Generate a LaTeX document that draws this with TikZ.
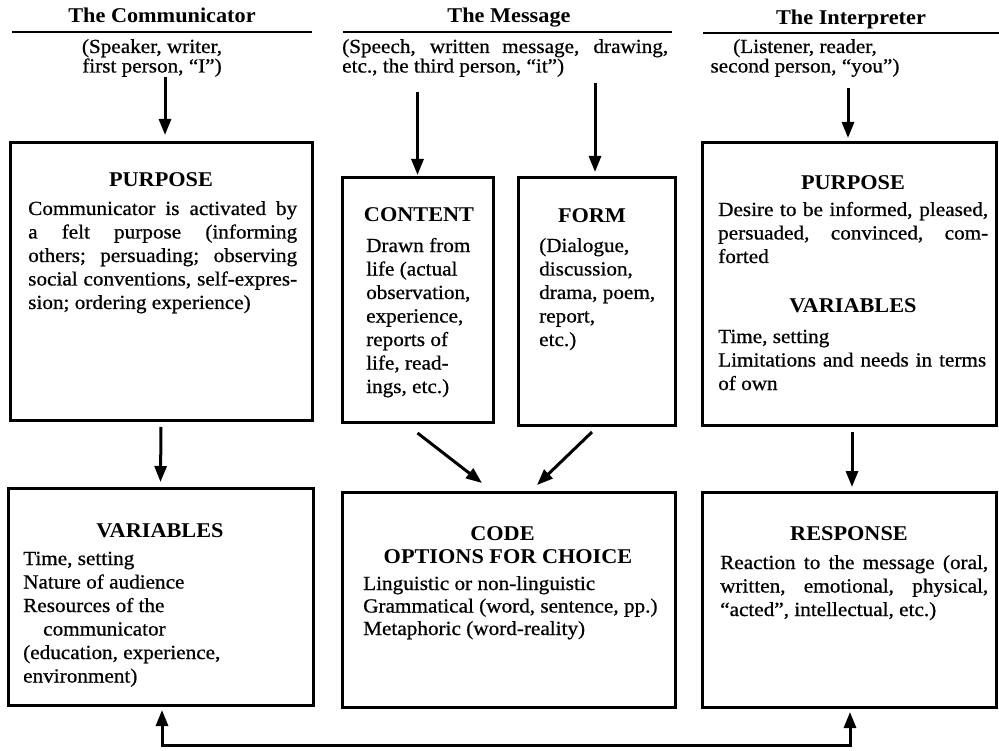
\documentclass[tikz,border=0pt]{standalone}
\usepackage{fontspec}
\setmainfont{Liberation Serif}[FakeStretch=1.06]
\newfontfamily\bodyf{Liberation Serif}[Ligatures=TeX, FakeStretch=1.06, FakeBold=0.7]
\usetikzlibrary{arrows.meta,calc}
\newcommand{\jl}[2]{\makebox[#1pt][s]{#2}}
\tikzset{
  box/.style={draw, line width=3pt, inner sep=0pt, outer sep=0pt},
  body/.style={anchor=base west, inner sep=0pt, align=left, font=\bodyf\fontsize{20}{23.5}\selectfont},
  hd/.style={anchor=base, inner sep=0pt, align=center, font=\fontsize{21}{23}\selectfont\bfseries},
  sub/.style={anchor=base, inner sep=0pt, align=center, font=\bodyf\fontsize{20}{19.5}\selectfont},
  arr/.style={line width=3pt, -{Triangle[length=16pt,width=12pt]}},
  rule/.style={line width=1.5pt}
}
\begin{document}
\begin{tikzpicture}[x=1pt,y=-1pt]
\useasboundingbox[fill=white] (0,0) rectangle (999,751);

% column titles
\node[hd] (t1) at (162,23) {The Communicator};
\node[hd] (t2) at (509,23) {The Message};
\node[hd] (t3) at (851,25) {The Interpreter};
\draw[rule] (12,32) -- (312,32);
\draw[rule] (343,32) -- (672,32);
\draw[rule] (703,33) -- (999,33);

% subtitles (base anchor = last line)
\node[sub] (s1) at (152,72.5) {(Speaker, writer,\\ first person, ``I'')};
\node[body, font=\bodyf\fontsize{20}{19.5}\selectfont] (s2) at (342,72.5) {\jl{326}{(Speech, written message, drawing,}\\ etc., the third person, ``it'')};
\node[sub] (s3) at (805,72.5) {(Listener, reader,\\ second person, ``you'')};

% boxes
\node[box, minimum width=302pt, minimum height=277pt] (lp) at (161,281.5) {};
\node[box, minimum width=151pt, minimum height=244pt] (ct) at (417.5,300) {};
\node[box, minimum width=157pt, minimum height=247pt] (fm) at (596.5,301.5) {};
\node[box, minimum width=294pt, minimum height=282pt] (rp) at (849,284) {};
\node[box, minimum width=305pt, minimum height=217pt] (lv) at (160.5,596.5) {};
\node[box, minimum width=333pt, minimum height=215pt] (cd) at (508.5,599.5) {};
\node[box, minimum width=294pt, minimum height=215pt] (rs) at (849,599.5) {};

% left purpose
\node[hd] (lph) at (161,187) {PURPOSE};
\node[body] (lpb) at (28,309) {\jl{269}{Communicator is activated by}\\
\jl{269}{a felt purpose (informing}\\
\jl{269}{others; persuading; observing}\\
\jl{269}{social conventions, self-expres-}\\
sion; ordering experience)};

% content
\node[hd] (cth) at (419,222) {CONTENT};
\node[body] (ctb) at (366,393) {Drawn from\\ life (actual\\ observation,\\ experience,\\ reports of\\ life, read-\\ ings, etc.)};

% form
\node[hd] (fmh) at (592,223) {FORM};
\node[body] (fmb) at (539,346) {(Dialogue,\\ discussion,\\ drama, poem,\\ report,\\ etc.)};

% right purpose
\node[hd] (rph) at (853,190) {PURPOSE};
\node[body] (rpb) at (718,263) {\jl{270}{Desire to be informed, pleased,}\\
\jl{270}{persuaded, convinced, com-}\\ forted};
\node[hd] (rvh) at (853,313) {VARIABLES};
\node[body] (rvb) at (718,390) {Time, setting\\ \jl{268}{Limitations and needs in terms}\\ of own};

% left variables
\node[hd] (lvh) at (160,537) {VARIABLES};
\node[body] (lvb) at (23,682.5) {Time, setting\\ Nature of audience\\ Resources of the\\ \hspace*{20pt}communicator\\ (education, experience,\\ environment)};

% code
\node[hd] (cdh) at (508,563) {\makebox[0pt]{\hspace*{-11pt}CODE}\\ OPTIONS FOR CHOICE};
\node[body, font=\bodyf\fontsize{20}{22.5}\selectfont] (cdb) at (363,635) {Linguistic or non-linguistic\\ Grammatical (word, sentence, pp.)\\ Metaphoric (word-reality)};

% response
\node[hd] (rsh) at (849,540) {RESPONSE};
\node[body] (rsb) at (720,616) {\jl{268}{Reaction to the message (oral,}\\
\jl{268}{written, emotional, physical,}\\ ``acted'', intellectual, etc.)};

% arrows
\draw[arr] ([xshift=4pt,yshift=66pt]lp.north) -- ([xshift=4pt,yshift=8pt]lp.north);
\draw[arr] ([yshift=86pt]ct.north) -- ([yshift=3pt]ct.north);
\draw[arr] ([xshift=-1.5pt,yshift=95pt]fm.north) -- ([xshift=-1.5pt,yshift=6pt]fm.north);
\draw[arr] ([xshift=-1pt,yshift=55pt]rp.north) -- ([xshift=-1pt,yshift=5pt]rp.north);

\draw[arr] ([yshift=-7pt]lp.south) -- ([yshift=6pt]lv.north);
\draw[arr] ([xshift=3pt,yshift=-7pt]rp.south) -- ([xshift=3pt,yshift=5pt]rs.north);
\draw[arr] ([yshift=-11pt]ct.south) -- ([xshift=-26.5pt,yshift=9pt]cd.north);
\draw[arr] ([xshift=-4.5pt,yshift=-7pt]fm.south) -- ([xshift=28.5pt,yshift=7pt]cd.north);

% feedback
\coordinate (fb) at (505,745);
\draw[line width=3pt, {Triangle[length=16pt,width=12pt]}-{Triangle[length=16pt,width=12pt]}]
  ([xshift=1.5pt,yshift=-5pt]lv.south) -- ([xshift=1.5pt]lv.south |- fb) -| ([xshift=1pt,yshift=-5pt]rs.south);
\end{tikzpicture}
\end{document}
